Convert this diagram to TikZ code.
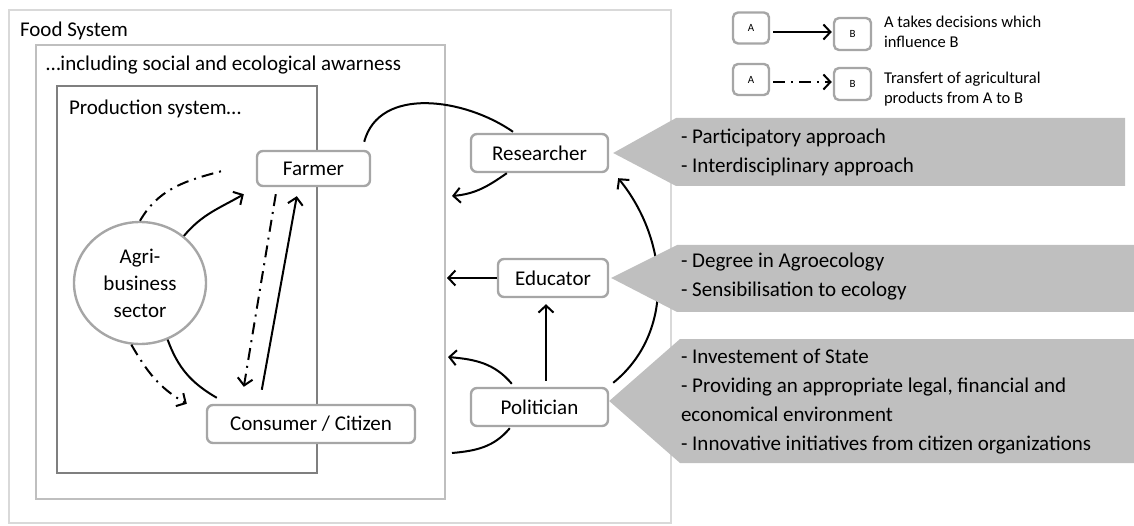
\documentclass[tikz,border=0pt]{standalone}
\usepackage{fontspec}
\setmainfont{Carlito}
\usetikzlibrary{arrows.meta,shapes.geometric,positioning}
\definecolor{outergray}{HTML}{D9D9D9}
\definecolor{midgray}{HTML}{BFBFBF}
\definecolor{innergray}{HTML}{7F7F7F}
\definecolor{boxgray}{HTML}{A6A6A6}
\definecolor{calloutgray}{HTML}{BFBFBF}

\begin{document}
\begin{tikzpicture}[x=1pt,y=1pt,>={Straight Barb[length=7pt,width=15pt]},line width=2pt,
  font=\fontsize{21}{29}\selectfont,
  actor/.style={draw=boxgray,line width=2.4pt,rounded corners=6pt,fill=white,minimum height=38pt,inner sep=0pt},
  legbox/.style={draw=boxgray,line width=2.4pt,rounded corners=5pt,fill=white,minimum width=36pt,minimum height=31pt,inner sep=0pt,font=\fontsize{11}{13}\selectfont},
  legtext/.style={anchor=base west,align=left,inner sep=0pt,font=\fontsize{16.5}{20.5}\selectfont},
  title/.style={anchor=base west,inner sep=0pt},
  callout/.style={fill=calloutgray},
  calltext/.style={anchor=base west,align=left,inner sep=0pt},
  dashdot/.style={dash pattern=on 12pt off 6pt on 2pt off 6pt}]

\useasboundingbox (0,0) rectangle (1134,525);

\draw[outergray,line width=2pt] (9,2) rectangle (671,515);
\draw[midgray,line width=2pt] (36,26) rectangle (445,480);
\draw[innergray,line width=2.5pt] (57,52) rectangle (317,439);
\node[title] (food) at (19,488) {Food System};
\node[title] (aware) at (45,454) {…including social and ecological awarness};
\node[title] (prod) at (68,410) {Production system…};

\node[actor,minimum width=113pt,minimum height=35pt] (farm) at (313.5,356.5) {Farmer};
\node[actor,minimum width=208pt] (cons) at (311,101) {Consumer / Citizen};
\node[draw=boxgray,line width=2.4pt,ellipse,minimum width=132pt,minimum height=122pt,inner sep=0pt,
  align=center,font=\fontsize{21}{27}\selectfont] (agri) at (140,242) {Agri-\\business\\sector};
\node[actor,minimum width=137pt] (res) at (539.5,372) {Researcher};
\node[actor,minimum width=110pt] (edu) at (553,247) {Educator};
\node[actor,minimum width=137pt] (pol) at (539.5,118) {Politician};

\draw[->] (agri.47) to[out=50,in=210] ([shift={(-12,-7)}]farm.south west);
\draw[dashdot] (agri.north) to[out=60,in=195] ([shift={(-30,-1.5)}]farm.west);
\draw[dashdot,->] (agri.262) to[out=-60,in=150] ([xshift=-19]cons.north west);
\draw (agri.-64) to[out=-70,in=150] ([shift={(11,6)}]cons.north west);
\draw[dashdot,->] ([shift={(20,-7)}]farm.south west) -- ([shift={(38,17)}]cons.north west);
\draw[->] ([shift={(56,14)}]cons.north west) -- ([shift={(41,-9)}]farm.south west);
\draw ([shift={(-7,8)}]farm.north east) to[out=75,in=145] ([shift={(-26.5,1)}]res.north);

\coordinate (resend) at (452,329);
\coordinate (eduend) at (447,247);
\coordinate (polup) at (448,168);
\coordinate (poldown) at (452,72);
\draw[->] ([xshift=37]res.south west) to[out=215,in=5] (resend);
\draw[->] (edu.west) -- (eduend);
\draw[->,shorten <=6pt,shorten >=6pt] ([xshift=6.5]pol.north) -- ([xshift=-7]edu.south);
\draw[->] ([shift={(42,3)}]pol.north west) to[out=130,in=-5] (polup);
\draw ([shift={(40,-1)}]pol.south west) to[out=230,in=5] (poldown);
\draw[->] ([shift={(4,4)}]pol.north east) to[out=39,in=309] ([shift={(9,-5)}]res.south east);

\fill[callout] ([xshift=4]res.east) -- (676,407) -- (1125,407) -- (1125,339) -- (676,339) -- cycle;
\fill[callout] ([xshift=2]edu.east) -- (677,280) -- (1134,280) -- (1134,213) -- (677,213) -- cycle;
\fill[callout] ([yshift=6]pol.east) -- (680,186) -- (1134,186) -- (1134,62) -- (680,62) -- cycle;
\node[calltext] (restext) at (680,352) {- Participatory approach\\- Interdisciplinary approach};
\node[calltext] (edutext) at (680,228) {- Degree in Agroecology\\- Sensibilisation to ecology};
\node[calltext,font=\fontsize{21}{29}\selectfont] (poltext) at (680,75) {- Investement of State\\- Providing an appropriate legal, financial and\\economical environment\\- Innovative initiatives from citizen organizations};

\node[legbox] (la1) at (751,497) {A};
\node[legbox,minimum width=37pt,minimum height=32pt] (lb1) at (852.5,491) {B};
\node[legbox] (la2) at (751,445.5) {A};
\node[legbox,minimum width=37pt,minimum height=32pt] (lb2) at (852.5,441) {B};
\draw[->] ([shift={(3,-4)}]la1.east) -- ([shift={(-1,2)}]lb1.west);
\draw[dashdot,->] ([shift={(3,-2.5)}]la2.east) -- ([shift={(-1,2)}]lb2.west);
\node[legtext] (lt1) at (883,477) {A takes decisions which\\influence B};
\node[legtext] (lt2) at (883,421) {Transfert of agricultural\\products from A to B};
\end{tikzpicture}
\end{document}
